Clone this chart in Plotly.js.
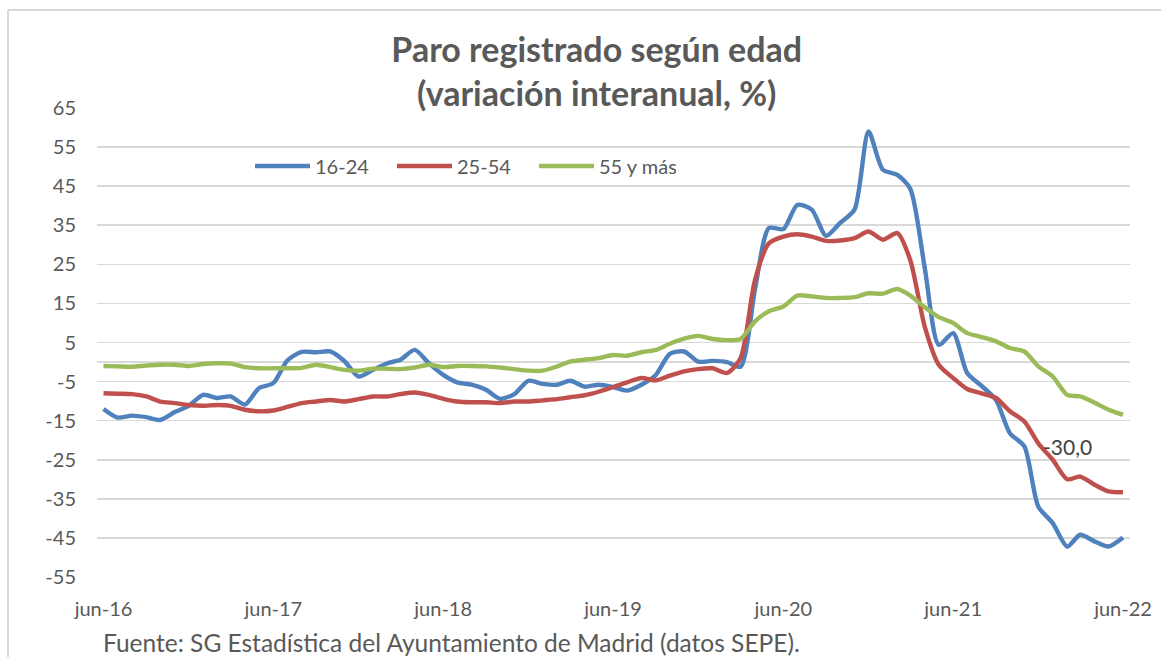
<!DOCTYPE html>
<html>
<head>
<meta charset="utf-8">
<script src="https://cdn.plot.ly/plotly-3.0.1.min.js"></script>
<style>
  html, body { margin: 0; padding: 0; background: #ffffff; }
  #chart { width: 1161px; height: 657px; }
</style>
</head>
<body>
<div id="chart"></div>
<script>
// Monthly series, jun-2016 .. jun-2022 (73 months)
const startYear = 2016, startMonth = 6, nMonths = 73;
const dates = [];
for (let k = 0; k < nMonths; k++) {
  const m0 = startMonth - 1 + k;
  const y = startYear + Math.floor(m0 / 12);
  const m = (m0 % 12) + 1;
  dates.push(y + '-' + String(m).padStart(2, '0') + '-01');
}

const seriesNames = ['16-24', '25-54', '55 y más'];

const age16_24 = [
  -12.0, -14.2, -13.7, -14.1, -14.8, -12.8, -11.2, -8.4, -9.2, -8.8, -10.9, -6.7,
  -5.4, 0.4, 2.6, 2.5, 2.7, 0.2, -3.7, -2.0, -0.3, 0.6, 3.1, -0.3,
  -3.3, -5.2, -5.8, -7.1, -9.4, -8.2, -4.8, -5.6, -5.8, -4.8, -6.3, -5.8,
  -6.4, -7.3, -5.8, -3.3, 2.1, 2.7, 0.1, 0.3, 0.0, -1.2, 18.5, 34.3,
  34.0, 40.2, 39.0, 32.3, 35.6, 39.0, 59.0, 49.2, 47.9, 44.3, 24.0, 4.4,
  7.4, -2.8, -6.1, -9.7, -18.2, -21.6, -37.0, -41.2, -47.2, -44.2, -45.9, -47.2,
  -44.9
];
const age25_54 = [
  -8.0, -8.1, -8.2, -8.8, -10.1, -10.5, -11.0, -11.2, -11.0, -11.2, -12.2, -12.6,
  -12.4, -11.5, -10.5, -10.1, -9.7, -10.1, -9.5, -8.8, -8.8, -8.2, -7.8, -8.4,
  -9.4, -10.1, -10.3, -10.3, -10.5, -10.1, -10.1, -9.8, -9.5, -9.0, -8.5, -7.6,
  -6.4, -5.2, -4.1, -4.7, -3.5, -2.4, -1.8, -1.6, -2.8, 1.0, 21.0, 30.4,
  32.1, 32.7, 32.1, 31.0, 31.1, 31.7, 33.4, 31.3, 33.0, 26.0, 9.0, -0.7,
  -4.1, -6.9, -8.0, -9.2, -12.6, -15.2, -20.8, -25.0, -30.0, -29.3, -31.4, -33.1,
  -33.3
];
const age55plus = [
  -1.0, -1.1, -1.2, -0.9, -0.7, -0.7, -1.0, -0.5, -0.3, -0.4, -1.3, -1.6,
  -1.6, -1.6, -1.5, -0.7, -1.3, -2.0, -2.2, -1.7, -1.7, -1.8, -1.4, -0.7,
  -1.3, -1.0, -1.0, -1.1, -1.4, -1.8, -2.2, -2.2, -1.1, 0.1, 0.6, 1.0,
  1.8, 1.6, 2.5, 3.1, 4.7, 6.0, 6.7, 5.9, 5.6, 5.9, 10.4, 13.0,
  14.2, 17.0, 16.8, 16.4, 16.4, 16.6, 17.6, 17.5, 18.7, 17.0, 14.0, 11.5,
  10.0, 7.4, 6.4, 5.3, 3.6, 2.7, -1.1, -3.7, -8.4, -8.8, -10.4, -12.2,
  -13.5
];

const tickDates = ['2016-06-01', '2017-06-01', '2018-06-01', '2019-06-01', '2020-06-01', '2021-06-01', '2022-06-01'];
const tickLabels = ['jun-16', 'jun-17', 'jun-18', 'jun-19', 'jun-20', 'jun-21', 'jun-22'];
const yTicks = [65, 55, 45, 35, 25, 15, 5, -5, -15, -25, -35, -45, -55];

const labelIndex = 68; // data label shown on the 25-54 series

const colors = ['#4f81bd', '#c0504d', '#9bbb59'];
const allSeries = [age16_24, age25_54, age55plus];

const traces = allSeries.map((vals, k) => ({
  type: 'scatter',
  mode: 'lines',
  name: seriesNames[k],
  x: dates,
  y: vals,
  line: { color: colors[k], width: 4.4, shape: 'spline', smoothing: 0.7 },
  hoverinfo: 'x+y+name'
}));

const textColor = '#595959';
const fontFam = 'Lato, "Open Sans", sans-serif';

// plot area pixels
const L = 97, R = 31, T = 108, B = 80, W = 1161, H = 657;
const pw = W - L - R, ph = H - T - B;
const px = (x) => (x - L) / pw;
const py = (y) => (H - B - y) / ph;

const layout = {
  width: W, height: H,
  margin: { l: L, r: R, t: T, b: B, pad: 0 },
  paper_bgcolor: '#ffffff',
  plot_bgcolor: '#ffffff',
  font: { family: fontFam, color: textColor, size: 20 },
  title: {
    text: '<b>Paro registrado según edad</b><br><b>(variación interanual, %)</b>',
    font: { family: fontFam, size: 34, color: textColor },
    x: 0.514, xanchor: 'center', xref: 'container',
    y: 1 - 62 / H, yanchor: 'top', yref: 'container'
  },
  xaxis: {
    type: 'date',
    range: ['2016-05-18', '2022-06-16'],
    tickmode: 'array',
    tickvals: tickDates,
    ticktext: tickLabels,
    showgrid: false,
    zeroline: false,
    showline: false,
    ticks: '',
    ticklabelstandoff: 18,
    tickfont: { family: fontFam, size: 20, color: textColor },
    fixedrange: true
  },
  yaxis: {
    range: [-55, 65],
    tickmode: 'array',
    tickvals: yTicks,
    ticktext: yTicks.map(String),
    showgrid: true,
    gridcolor: '#d9d9d9',
    gridwidth: 1.6,
    zeroline: true,
    zerolinecolor: '#d9d9d9',
    zerolinewidth: 1.6,
    showline: false,
    ticks: '',
    ticklabelstandoff: 20,
    tickfont: { family: fontFam, size: 20, color: textColor },
    fixedrange: true
  },
  showlegend: true,
  legend: {
    orientation: 'h',
    x: px(250), xanchor: 'left',
    y: py(166), yanchor: 'middle',
    font: { family: fontFam, size: 20, color: textColor },
    entrywidth: 72, entrywidthmode: 'pixels',
    itemwidth: 55,
    bgcolor: 'rgba(0,0,0,0)'
  },
  annotations: [
    {
      x: dates[labelIndex], y: age25_54[labelIndex],
      xref: 'x', yref: 'y',
      text: age25_54[labelIndex].toFixed(1).replace('.', ','),
      showarrow: false,
      yshift: 33,
      font: { family: fontFam, size: 21, color: '#404040' }
    },
    {
      xref: 'paper', yref: 'paper',
      x: px(101), y: py(642),
      xanchor: 'left', yanchor: 'middle',
      text: 'Fuente: SG Estadística del Ayuntamiento de Madrid (datos SEPE).',
      showarrow: false,
      font: { family: fontFam, size: 24.5, color: textColor }
    }
  ],
  shapes: [
    { type: 'line', xref: 'paper', yref: 'paper', x0: px(8), x1: px(8), y0: py(10), y1: py(660),
      line: { color: '#d9d9d9', width: 2 } },
    { type: 'line', xref: 'paper', yref: 'paper', x0: px(8), x1: px(1165), y0: py(10), y1: py(10),
      line: { color: '#d9d9d9', width: 2 } }
  ]
};

Plotly.newPlot('chart', traces, layout, { displayModeBar: false, staticPlot: true });
</script>
</body>
</html>
